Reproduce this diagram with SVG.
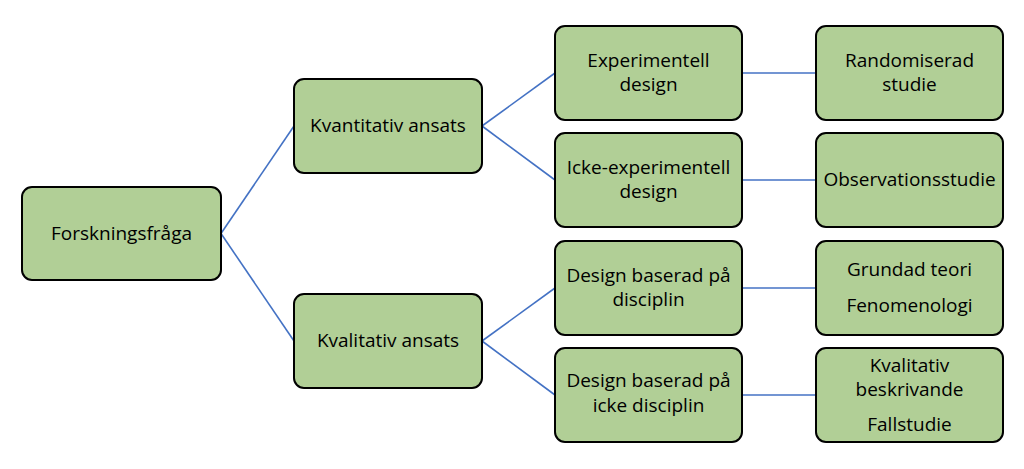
<svg xmlns="http://www.w3.org/2000/svg" width="1024" height="469" viewBox="0 0 1024 469">
<style>
.n rect{fill:#B1CF96;stroke:#000;stroke-width:2}
.n text{font-family:"Open Sans","Liberation Sans",sans-serif;font-size:19px;fill:#000;text-anchor:middle}
.c line{stroke:#4472C4;stroke-width:1.6}
</style>
<rect width="1024" height="469" fill="#fff"/>
<g class="c" id="connectors">
<line x1="221" y1="233.5" x2="294" y2="126"/>
<line x1="221" y1="233.5" x2="294" y2="341"/>
<line x1="482" y1="126" x2="555" y2="73"/>
<line x1="482" y1="126" x2="555" y2="180"/>
<line x1="482" y1="341" x2="555" y2="288"/>
<line x1="482" y1="341" x2="555" y2="395"/>
<line x1="742" y1="73" x2="816" y2="73"/>
<line x1="742" y1="180" x2="816" y2="180"/>
<line x1="742" y1="288" x2="816" y2="288"/>
<line x1="742" y1="395" x2="816" y2="395"/>
</g>
<g class="n" id="forskningsfraga"><rect x="22" y="187" width="199" height="93" rx="10"/><text x="121.5" y="239.5">Forskningsfråga</text></g>
<g class="n" id="kvantitativ"><rect x="294" y="79" width="188" height="94" rx="10"/><text x="388" y="131.7">Kvantitativ ansats</text></g>
<g class="n" id="kvalitativ"><rect x="294" y="294" width="188" height="94" rx="10"/><text x="388" y="346.7">Kvalitativ ansats</text></g>
<g class="n" id="experimentell"><rect x="555" y="26" width="187" height="94" rx="10"/><text x="648.5" y="66.7">Experimentell</text><text x="648.5" y="90.5">design</text></g>
<g class="n" id="icke-experimentell"><rect x="555" y="133" width="187" height="94" rx="10"/><text x="648.5" y="174">Icke-experimentell</text><text x="648.5" y="198.3">design</text></g>
<g class="n" id="design-disciplin"><rect x="555" y="241" width="187" height="94" rx="10"/><text x="648.5" y="281.7">Design baserad på</text><text x="648.5" y="306">disciplin</text></g>
<g class="n" id="design-icke-disciplin"><rect x="555" y="348" width="187" height="94" rx="10"/><text x="648.5" y="387.3">Design baserad på</text><text x="648.5" y="411.7">icke disciplin</text></g>
<g class="n" id="randomiserad"><rect x="816" y="26" width="187" height="94" rx="10"/><text x="909.5" y="66.7">Randomiserad</text><text x="909.5" y="90.7">studie</text></g>
<g class="n" id="observationsstudie"><rect x="816" y="133" width="187" height="94" rx="10"/><text x="909.5" y="185.7">Observationsstudie</text></g>
<g class="n" id="grundad"><rect x="816" y="241" width="187" height="94" rx="10"/><text x="909.5" y="276">Grundad teori</text><text x="909.5" y="311.7">Fenomenologi</text></g>
<g class="n" id="kvalitativ-beskrivande"><rect x="816" y="348" width="187" height="94" rx="10"/><text x="909.5" y="371.7">Kvalitativ</text><text x="909.5" y="395.7">beskrivande</text><text x="909.5" y="431">Fallstudie</text></g>
</svg>
